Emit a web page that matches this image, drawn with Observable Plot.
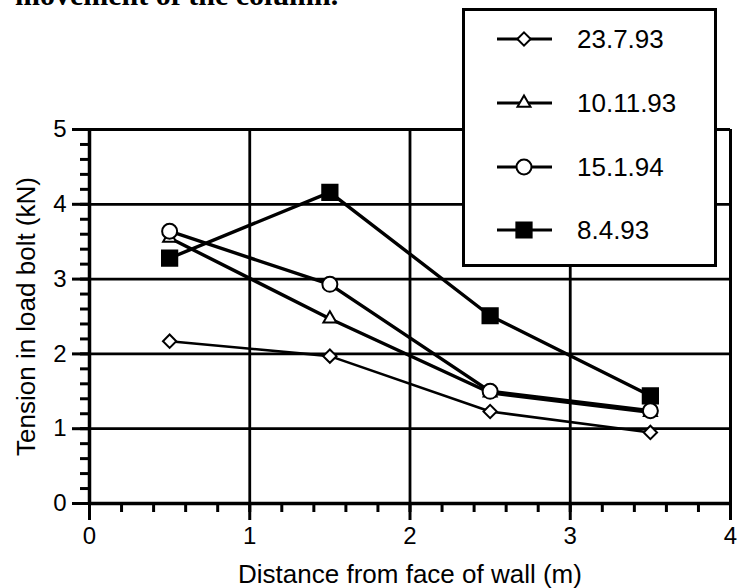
<!DOCTYPE html>
<html>
<head>
<meta charset="utf-8">
<script src="https://cdn.jsdelivr.net/npm/d3@7"></script>
<script src="https://cdn.jsdelivr.net/npm/@observablehq/plot@0.6"></script>
<style>
  html, body { margin: 0; padding: 0; background: white; }
  #wrap { position: relative; width: 746px; height: 588px; overflow: hidden; background: white; }
  #wrap svg.plot { position: absolute; left: 0; top: 0; }
  #toptext { position: absolute; left: 15px; top: -20px; font-family: "Liberation Serif", "Times New Roman", serif; font-weight: bold; font-size: 30px; line-height: 30px; white-space: nowrap; color: black; z-index: 2; }
  #legend { position: absolute; left: 462px; top: 8px; width: 255px; height: 259px; box-sizing: border-box; border: 3px solid black; background: white; z-index: 3; }
</style>
</head>
<body>
<div id="wrap">
  <div id="toptext">movement of the column.</div>
  <div id="legend"></div>
</div>
<script>
// Distances (m)
const distances = [0.5, 1.5, 2.5, 3.5];
// Series names (legend order)
const seriesNames = ["23.7.93", "10.11.93", "15.1.94", "8.4.93"];
// Tension values (kN)
const tension_23_7_93 = [2.17, 1.97, 1.23, 0.95];
const tension_10_11_93 = [3.55, 2.47, 1.48, 1.22];
const tension_15_1_94 = [3.64, 2.93, 1.50, 1.24];
const tension_8_4_93 = [3.28, 4.16, 2.51, 1.44];
// Axis ticks
const xTicks = [0, 1, 2, 3, 4];
const yTicks = [0, 1, 2, 3, 4, 5];
const xMinorTicks = d3.range(0, 20.5, 1).map(d => d / 5);
const yMinorTicks = d3.range(0, 25.5, 1).map(d => d / 5);

const seriesValues = [tension_23_7_93, tension_10_11_93, tension_15_1_94, tension_8_4_93];
const seriesStyle = {
  "23.7.93": {symbol: "diamond2", r: 6, fill: "white", lineWidth: 2.6},
  "10.11.93": {symbol: "triangle2", r: 6.2, fill: "white", lineWidth: 3.4},
  "15.1.94": {symbol: "circle", r: 7.5, fill: "white", lineWidth: 3.4},
  "8.4.93": {symbol: "square", r: 8.6, fill: "black", lineWidth: 3.4}
};
const rows = [];
seriesNames.forEach((s, i) => distances.forEach((x, j) => rows.push({series: s, x, y: seriesValues[i][j]})));
const bySeries = s => rows.filter(r => r.series === s);

const dotOrder = ["23.7.93", "8.4.93", "10.11.93", "15.1.94"];

const chart = Plot.plot({
  width: 746,
  height: 588,
  marginLeft: 89,
  marginRight: 16,
  marginTop: 129,
  marginBottom: 85,
  x: {domain: [0, 4]},
  y: {domain: [0, 5]},
  style: {fontFamily: "'Liberation Sans', Arial, Helvetica, sans-serif", fontSize: "24px", background: "transparent", color: "black", overflow: "visible"},
  marks: [
    Plot.ruleY([1, 2, 3, 4], {stroke: "black", strokeWidth: 2.8}),
    Plot.ruleX([1, 2, 3], {stroke: "black", strokeWidth: 2.8}),
    Plot.ruleY([5], {stroke: "black", strokeWidth: 3}),
    Plot.ruleX([4], {stroke: "black", strokeWidth: 3}),
    Plot.ruleX([0], {stroke: "black", strokeWidth: 3.5}),
    Plot.ruleY([0], {stroke: "black", strokeWidth: 3.5}),
    Plot.axisX({ticks: xMinorTicks, tickSize: 9, tickFormat: () => "", label: null, strokeWidth: 3}),
    Plot.axisY({ticks: yMinorTicks, tickSize: 9, tickFormat: () => "", label: null, strokeWidth: 3}),
    Plot.axisX({ticks: xTicks, tickSize: 17, tickPadding: 6, strokeWidth: 3, tickFormat: d => String(d), label: null, fontSize: 24}),
    Plot.axisY({ticks: yTicks, tickSize: 17, tickPadding: 6, strokeWidth: 3, tickFormat: d => String(d), label: null, fontSize: 24}),
    Plot.axisX({ticks: [], label: "Distance from face of wall (m)", labelAnchor: "center", labelArrow: "none", labelOffset: 79, fontSize: 26}),
    Plot.axisY({ticks: [], label: "Tension in load bolt (kN)", labelAnchor: "center", labelArrow: "none", labelOffset: 73, fontSize: 26}),
    ...seriesNames.map(s => Plot.line(bySeries(s), {x: "x", y: "y", stroke: "black", strokeWidth: seriesStyle[s].lineWidth})),
    ...dotOrder.map(s => Plot.dot(bySeries(s), {x: "x", y: "y", symbol: () => seriesStyle[s].symbol, r: seriesStyle[s].r,
      fill: seriesStyle[s].fill, stroke: "black", strokeWidth: 2}))
  ]
});
document.getElementById("wrap").prepend(chart);

// Legend
const lg = d3.select("#legend").append("svg").attr("width", 249).attr("height", 253)
  .style("position", "absolute").style("left", "0").style("top", "0");
const symMap = {diamond2: d3.symbolDiamond2, triangle2: d3.symbolTriangle2, circle: d3.symbolCircle, square: d3.symbolSquare};
const rowY = [28, 92, 156, 219];
seriesNames.forEach((s, i) => {
  const st = seriesStyle[s];
  const g = lg.append("g").attr("transform", `translate(0,${rowY[i]})`);
  g.append("line").attr("x1", 32).attr("x2", 87).attr("y1", 0).attr("y2", 0).attr("stroke", "black").attr("stroke-width", 3);
  g.append("path").attr("transform", "translate(59,0)")
    .attr("d", d3.symbol(symMap[st.symbol], Math.PI * st.r * st.r)())
    .attr("fill", st.fill).attr("stroke", "black").attr("stroke-width", 2);
  g.append("text").attr("x", 112).attr("y", 0).attr("dy", "0.35em")
    .style("font-family", "'Liberation Sans', Arial, sans-serif").style("font-size", "26px").text(s);
});
</script>
</body>
</html>
